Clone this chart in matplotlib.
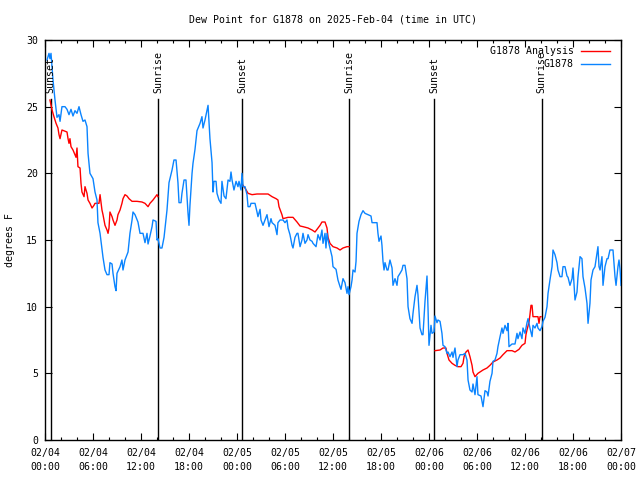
import numpy as np
import matplotlib
matplotlib.use("Agg")
import matplotlib.pyplot as plt
import matplotlib.dates as mdates
import matplotlib.transforms as mtransforms

# ---------------- data (hours since 2025-02-04 00:00 UTC) ----------------
obs_hours = [0.25, 0.5, 0.62, 0.75, 1.0, 1.25, 1.5, 1.75, 1.88, 2.12, 2.5, 2.75, 3.0, 3.25, 3.5, 3.75, 4.0, 4.25, 4.5, 4.75,
             5.0, 5.25, 5.38, 5.62, 6.0, 6.25, 6.5, 6.62, 6.88, 7.25, 7.5, 7.75, 8.0, 8.12, 8.38, 8.5, 8.75, 8.88, 9.0, 9.38,
             9.62, 9.75, 10.0, 10.38, 10.62, 10.88, 11.0, 11.25, 11.62, 11.88, 12.25, 12.5, 12.75, 12.88, 13.12, 13.38, 13.5, 13.88, 14.0, 14.12,
             14.38, 14.62, 14.88, 15.25, 15.5, 15.88, 16.12, 16.38, 16.62, 16.75, 17.0, 17.12, 17.38, 17.62, 17.88, 18.0, 18.12, 18.38, 18.5, 18.75,
             19.0, 19.38, 19.62, 19.75, 20.0, 20.25, 20.38, 20.62, 20.88, 21.0, 21.12, 21.38, 21.5, 21.75, 22.0, 22.12, 22.38, 22.62, 22.88, 23.12,
             23.25, 23.38, 23.62, 23.88, 24.12, 24.25, 24.5, 24.62, 24.75, 25.0, 25.25, 25.38, 25.62, 25.75, 26.25, 26.5, 26.62, 26.88, 27.0, 27.25,
             27.5, 27.75, 28.0, 28.25, 28.38, 28.75, 29.0, 29.12, 29.38, 29.75, 30.0, 30.25, 30.38, 30.62, 30.88, 31.0, 31.25, 31.5, 31.62, 31.88,
             32.12, 32.25, 32.5, 32.75, 32.88, 33.12, 33.38, 33.5, 33.88, 34.12, 34.38, 34.62, 34.75, 35.0, 35.12, 35.25, 35.38, 35.62, 35.88, 36.0,
             36.38, 36.62, 36.88, 37.0, 37.25, 37.5, 37.75, 37.88, 38.0, 38.25, 38.38, 38.5, 38.75, 38.88, 39.0, 39.25, 39.5, 39.75, 40.0, 40.38,
             40.75, 40.88, 41.5, 41.62, 41.75, 42.0, 42.12, 42.25, 42.38, 42.5, 42.75, 42.88, 43.12, 43.38, 43.5, 43.75, 44.0, 44.12, 44.38, 44.62,
             44.75, 45.0, 45.25, 45.38, 45.62, 45.88, 46.0, 46.25, 46.5, 46.62, 46.88, 47.12, 47.25, 47.5, 47.75, 47.88, 48.0, 48.25, 48.38, 48.62,
             48.75, 49.0, 49.12, 49.38, 49.62, 49.75, 50.0, 50.25, 50.38, 50.62, 50.88, 51.0, 51.25, 51.5, 51.62, 51.88, 52.25, 52.5, 52.75, 52.88,
             53.12, 53.38, 53.5, 53.75, 54.0, 54.12, 54.5, 54.62, 54.75, 55.0, 55.25, 55.38, 55.62, 55.88, 56.0, 56.25, 56.5, 56.62, 56.88, 57.12,
             57.25, 57.5, 57.75, 57.88, 58.0, 58.38, 58.75, 59.0, 59.12, 59.38, 59.62, 59.75, 60.0, 60.25, 60.38, 60.62, 60.88, 61.0, 61.25, 61.5,
             61.62, 61.88, 62.12, 62.25, 62.5, 62.75, 62.88, 63.12, 63.38, 63.5, 63.75, 64.0, 64.12, 64.38, 64.62, 64.75, 65.0, 65.25, 65.38, 65.62,
             65.88, 66.0, 66.25, 66.5, 66.62, 66.88, 67.12, 67.25, 67.5, 67.75, 67.88, 68.12, 68.25, 68.5, 68.75, 69.0, 69.12, 69.25, 69.38, 69.62,
             69.75, 70.0, 70.25, 70.38, 70.62, 71.0, 71.25, 71.38, 71.62, 71.75, 71.88, 72.0]
obs_values = [28.5, 29.0, 28.6, 29.0, 27.0, 25.5, 24.2, 24.4, 23.9, 25.0, 25.0, 24.8, 24.4, 24.8, 24.3, 24.7, 24.5, 25.0, 24.4, 23.9,
              24.0, 23.5, 21.5, 20.0, 19.6, 18.6, 18.0, 16.3, 15.5, 13.7, 12.75, 12.4, 12.4, 13.3, 13.2, 12.5, 11.5, 11.2, 12.5, 13.0,
              13.5, 12.75, 13.5, 14.1, 15.5, 16.5, 17.1, 16.9, 16.35, 15.5, 15.5, 14.8, 15.5, 14.7, 15.3, 16.0, 16.5, 16.4, 15.0, 15.1,
              14.4, 14.4, 15.2, 17.25, 19.3, 20.25, 21.0, 21.0, 19.3, 17.8, 17.8, 18.5, 19.5, 19.5, 17.0, 16.1, 17.6, 20.0, 20.75, 21.8,
              23.2, 23.75, 24.25, 23.4, 24.0, 24.75, 25.1, 22.6, 20.8, 18.6, 19.4, 19.4, 18.5, 18.0, 17.75, 19.4, 18.3, 18.1, 19.5, 19.4,
              20.1, 19.5, 18.75, 19.4, 19.0, 19.4, 18.75, 20.0, 19.0, 19.0, 18.4, 17.5, 17.5, 17.75, 17.75, 17.1, 16.75, 17.3, 16.5, 16.1,
              16.5, 16.9, 16.0, 16.6, 16.3, 16.1, 15.4, 16.3, 16.5, 16.5, 16.3, 16.5, 15.9, 15.4, 14.6, 14.4, 15.2, 15.5, 15.5, 14.5,
              15.0, 15.5, 14.75, 15.0, 15.4, 15.0, 14.9, 14.75, 14.5, 15.4, 15.0, 15.75, 14.75, 15.5, 14.4, 15.5, 15.0, 14.4, 13.75, 13.0,
              12.8, 12.0, 11.5, 11.3, 12.1, 11.8, 11.0, 11.5, 10.9, 11.5, 12.0, 12.75, 12.6, 13.4, 15.5, 16.4, 16.9, 17.2, 17.0, 16.9,
              16.8, 16.3, 16.3, 15.5, 14.9, 15.3, 14.6, 13.4, 12.75, 13.3, 12.75, 12.75, 13.5, 12.9, 11.6, 12.1, 11.6, 12.25, 12.5, 12.75,
              13.1, 13.1, 12.1, 10.0, 9.1, 8.75, 9.5, 10.75, 11.6, 10.9, 8.4, 7.9, 7.9, 10.4, 12.3, 9.8, 7.1, 8.6, 8.0, 8.1,
              9.3, 8.8, 9.0, 8.9, 8.0, 7.1, 7.0, 6.5, 6.6, 6.25, 6.6, 6.2, 6.9, 5.5, 6.0, 6.4, 6.4, 6.5, 6.0, 4.5,
              3.75, 3.6, 4.2, 3.4, 4.75, 3.4, 3.3, 2.9, 2.5, 3.7, 3.6, 3.3, 4.4, 5.0, 5.9, 6.0, 6.5, 7.0, 7.75, 8.4,
              8.0, 8.6, 8.2, 8.75, 7.0, 7.2, 7.2, 8.0, 7.6, 8.1, 7.6, 8.4, 8.0, 8.8, 9.1, 8.4, 7.75, 8.6, 8.4, 8.75,
              8.4, 8.2, 8.5, 8.9, 9.2, 10.0, 11.0, 12.0, 13.0, 14.25, 13.9, 13.3, 12.75, 12.25, 12.25, 13.0, 13.0, 12.3, 12.2, 11.6,
              12.1, 12.9, 10.5, 11.1, 12.2, 13.75, 13.6, 12.25, 11.4, 10.25, 8.75, 10.25, 12.0, 12.75, 13.0, 14.0, 14.5, 13.0, 12.75, 13.75,
              11.6, 13.0, 13.6, 13.6, 14.25, 14.25, 12.25, 11.6, 13.0, 13.5, 12.8, 11.6]

nan = float("nan")
ana_hours = [0.62, 0.88, 1.12, 1.38, 1.62, 1.75, 1.88, 2.12, 2.75, 2.88, 3.0, 3.12, 3.25, 3.5, 3.75, 3.88, 4.0, 4.12, 4.38, 4.5,
             4.62, 4.88, 5.0, 5.25, 5.38, 5.62, 5.88, 6.12, 6.25, 6.75, 6.88, 7.12, 7.25, 7.5, 7.75, 7.88, 8.0, 8.12, 8.38, 8.5,
             8.75, 9.0, 9.12, 9.38, 9.62, 9.75, 10.0, 10.25, 10.5, 10.88, 11.5, 12.12, 12.5, 12.88, 13.12, 13.5, 14.0, 14.12,
             14.2,
             24.75, 25.0, 25.38, 25.88, 26.5, 27.88, 28.38, 28.88, 29.12, 29.25, 29.62, 29.75, 30.38, 31.0, 31.5, 31.88, 32.25, 32.88, 33.38, 33.75,
             34.12, 34.38, 34.62, 35.0, 35.25, 35.38, 35.62, 36.0, 36.5, 36.88, 37.25, 37.75, 38.0,
             38.1,
             48.75, 49.38, 49.75, 50.12, 50.25, 50.5, 50.88, 51.25, 51.62, 52.0, 52.25, 52.38, 52.62, 52.88, 53.12, 53.38, 53.5, 53.75, 54.12, 54.38,
             54.75, 55.25, 55.62, 56.0, 56.5, 56.88, 57.25, 57.75, 58.38, 58.75, 59.25, 59.62, 60.0, 60.12, 60.25, 60.5, 60.62, 60.75, 60.88, 61.0,
             61.62, 61.75, 61.88, 62.0]
ana_values = [25.5, 24.75, 24.25, 23.75, 23.4, 22.9, 22.6, 23.25, 23.1, 22.6, 22.25, 22.6, 22.0, 21.75, 21.4, 21.2, 21.9, 20.5, 20.4, 19.25,
              18.6, 18.25, 19.0, 18.5, 18.0, 17.75, 17.4, 17.6, 17.75, 17.75, 18.4, 17.25, 16.9, 16.1, 15.75, 15.5, 15.9, 17.1, 16.75, 16.5,
              16.1, 16.5, 16.9, 17.25, 17.75, 18.1, 18.4, 18.3, 18.1, 17.9, 17.9, 17.85, 17.75, 17.5, 17.75, 18.0, 18.4, 18.25,
              nan,
              19.1, 18.9, 18.5, 18.4, 18.45, 18.45, 18.25, 18.1, 18.0, 17.5, 16.9, 16.6, 16.7, 16.7, 16.35, 16.05, 16.0, 15.9, 15.75, 15.6,
              15.9, 16.1, 16.35, 16.35, 15.9, 15.2, 14.75, 14.5, 14.4, 14.25, 14.4, 14.5, 14.5,
              nan,
              6.7, 6.75, 6.9, 6.9, 6.5, 6.0, 5.75, 5.6, 5.5, 5.5, 5.75, 6.25, 6.6, 6.75, 6.25, 5.6, 5.1, 4.75, 5.0, 5.1,
              5.25, 5.4, 5.6, 5.85, 6.0, 6.15, 6.4, 6.7, 6.7, 6.6, 6.8, 7.1, 7.25, 7.9, 8.25, 8.85, 9.4, 10.1, 10.1, 9.25,
              9.25, 8.75, 9.25, 9.25]

sun_hours = [0.71, 14.17, 24.67, 38.04, 48.67, 62.08]
sun_labels = ["Sunset", "Sunrise", "Sunset", "Sunrise", "Sunset", "Sunrise"]

title = "Dew Point for G1878 on 2025-Feb-04 (time in UTC)"
ylabel = "degrees F"
series_labels = ["G1878 Analysis", "G1878"]
y_ticks = [0, 5, 10, 15, 20, 25, 30]

# ---------------- plotting ----------------
t0 = np.datetime64("2025-02-04T00:00:00")
def to_time(hours):
    return t0 + (np.asarray(hours, dtype=float) * 3600).round().astype("timedelta64[s]")

FONT = "DejaVu Sans Mono"
FS = 7.1
plt.rcParams["font.family"] = [FONT]
plt.rcParams["font.size"] = FS

fig = plt.figure(figsize=(6.4, 4.8), dpi=100)
ax = fig.add_axes([45 / 640, 1 - 440 / 480, 576 / 640, 400 / 480])

ana_t = to_time(ana_hours)
obs_t = to_time(obs_hours)
ax.plot(ana_t, ana_values, color="#ff0000", lw=1.0, label=series_labels[0], zorder=3)
ax.plot(obs_t, obs_values, color="#0a84ff", lw=1.0, label=series_labels[1], zorder=4)

trans = mtransforms.blended_transform_factory(ax.transData, ax.transAxes)
for h, lab in zip(sun_hours, sun_labels):
    tx = to_time([h])[0]
    ax.axvline(tx, ymin=0, ymax=0.8525, color="black", lw=1.0, zorder=2)
    ax.text(tx, 0.868, lab, rotation=90, ha="center", va="bottom", transform=trans,
            fontsize=FS, zorder=5)

ax.set_xlim(to_time([0])[0], to_time([72])[0])
ax.set_ylim(0, 30)
ax.set_yticks(y_ticks)
ax.xaxis.set_major_locator(mdates.HourLocator(byhour=[0, 6, 12, 18]))
ax.xaxis.set_minor_locator(mdates.HourLocator(byhour=list(range(0, 24, 2))))
ax.xaxis.set_major_formatter(mdates.DateFormatter("%m/%d\n%H:%M"))
for lbl in ax.get_xticklabels():
    lbl.set_linespacing(1.45)

ax.tick_params(which="major", direction="in", length=5, width=0.8, top=True, right=True,
               labelsize=FS, pad=5)
ax.tick_params(which="minor", direction="in", length=2.5, width=0.8, top=True, right=False)
ax.tick_params(axis="y", which="minor", left=False, right=False)
ax.tick_params(axis="x", pad=6)
for s in ax.spines.values():
    s.set_linewidth(1.0)

ax.set_ylabel(ylabel, fontsize=FS)
ax.yaxis.set_label_coords(-30 / 576, 0.5)
fig.text(333 / 640, 1 - 20 / 480, title, ha="center", va="center", fontsize=FS)

leg = ax.legend(loc="upper right", bbox_to_anchor=(1 - 9 / 576, 1 - 4 / 400), frameon=False,
                markerfirst=False, handlelength=2.9, handletextpad=0.8, labelspacing=0.35,
                borderaxespad=0, borderpad=0.2, fontsize=FS)
for t in leg.get_texts():
    t.set_ha("right")

fig.savefig("out.png", dpi=100)
